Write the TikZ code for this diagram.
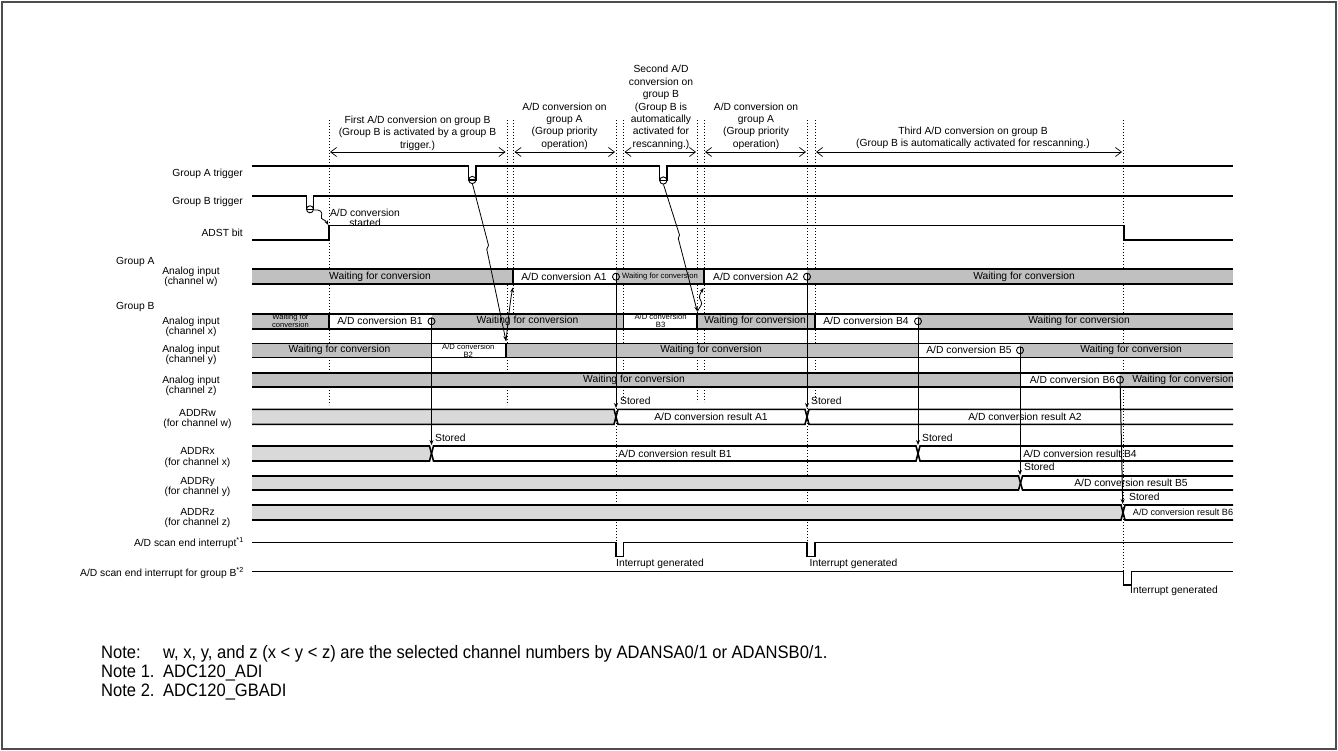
\documentclass[tikz,border=0pt]{standalone}
\usepackage{fontspec}
\setmainfont{Liberation Sans}
\newfontfamily\notefont[FakeStretch=0.92]{Liberation Sans}
\usetikzlibrary{arrows.meta}
\definecolor{bandgrey}{HTML}{C0C0C0}
\definecolor{reggrey}{HTML}{D9D9D9}
\definecolor{framegrey}{HTML}{4D4D4D}
\begin{document}
\begin{tikzpicture}[x=1pt,y=-1pt,
  sig/.style={line width=1.3pt},
  bline/.style={line width=1.6pt},
  sepline/.style={line width=1.4pt},
  guide/.style={line width=1pt, dash pattern=on 1pt off 2pt},
  dim/.style={line width=0.7pt, {Straight Barb[length=6pt,width=9pt,line width=0.7pt]}-{Straight Barb[length=6pt,width=9pt,line width=0.7pt]}},
  store/.style={line width=1pt, -{Stealth[length=5pt,width=4pt]}},
  ring/.style={line width=0.9pt},
  tx/.style={font=\fontsize{10.3}{11}\selectfont, inner sep=0pt},
  ann/.style={font=\fontsize{10.3}{12.4}\selectfont, align=center, inner sep=0pt},
  lab/.style={font=\fontsize{10.3}{10.6}\selectfont, align=center, inner sep=0pt},
  rlab/.style={font=\fontsize{10.3}{11}\selectfont, anchor=east, inner sep=0pt},
  smalltx/.style={font=\fontsize{7.7}{7.7}\selectfont, align=center, inner sep=0pt},
  tinytx/.style={font=\fontsize{7.6}{7.8}\selectfont, align=center, inner sep=0pt},
  notetx/.style={font=\notefont\fontsize{18}{19}\selectfont, anchor=base west, inner sep=0pt}
]
\useasboundingbox (0,0) rectangle (1338,751);
\draw[framegrey, line width=1.5pt] (2,2) rectangle (1336,749);

% dotted guide lines
\foreach \gx/\gt/\gb in {329/120/405, 507/120/405, 513/120/313, 616/120/542, 623.5/120/400, 697/120/402, 704/120/402, 807/120/542, 815/120/402, 1123/120/572}
  \draw[guide] (\gx,\gt) -- (\gx,\gb);

% phase annotations
\node[ann] (anB1) at (417.5,133) {First A/D conversion on group B\\(Group B is activated by a group B\\trigger.)};
\node[ann] (anA1) at (564.5,126) {A/D conversion on\\group A\\(Group priority\\operation)};
\node[ann] (anB2) at (661,107.5) {Second A/D\\conversion on\\group B\\(Group B is\\automatically\\activated for\\rescanning.)};
\node[ann] (anA2) at (756,126) {A/D conversion on\\group A\\(Group priority\\operation)};
\node[ann] (anB3) at (973,138) {Third A/D conversion on group B\\(Group B is automatically activated for rescanning.)};
\draw[dim] (330,152) -- (505.5,152);
\draw[dim] (514.5,152) -- (615,152);
\draw[dim] (624.5,152) -- (696,152);
\draw[dim] (705,152) -- (806,152);
\draw[dim] (816,152) -- (1122,152);

% left labels
\node[rlab] (lGA) at (243,174) {Group A trigger};
\node[rlab] (lGB) at (243,202) {Group B trigger};
\node[rlab] (lAD) at (243,233) {ADST bit};
\node[tx, anchor=west] (lGrA) at (116,262) {Group A};
\node[tx, anchor=west] (lGrB) at (116,307) {Group B};
\node[lab] (lw) at (191,277) {Analog input\\(channel w)};
\node[lab] (lx) at (191,327) {Analog input\\(channel x)};
\node[lab] (ly) at (191,355) {Analog input\\(channel y)};
\node[lab] (lz) at (191,386) {Analog input\\(channel z)};
\node[lab] (rw) at (197.5,419) {ADDRw\\(for channel w)};
\node[lab] (rx) at (197.5,457.5) {ADDRx\\(for channel x)};
\node[lab] (ry) at (197.5,487) {ADDRy\\(for channel y)};
\node[lab] (rz) at (197.5,518) {ADDRz\\(for channel z)};
\node[rlab] (li1) at (244,543) {A/D scan end interrupt\textsuperscript{*1}};
\node[rlab] (li2) at (244,573) {A/D scan end interrupt for group B\textsuperscript{*2}};

% triggers
\draw[sig] (252,166) -- (468.5,166) -- (468.5,180) -- (476,180) -- (476,166) -- (659.7,166) -- (659.7,180.5) -- (667,180.5) -- (667,166) -- (1233,166);
\draw[ring] (472.3,180) circle[radius=3.6];
\draw[ring] (663.3,180.5) circle[radius=3.6];
\draw[sig] (252,196) -- (306.7,196) -- (306.7,209.3) -- (313.3,209.3) -- (313.3,196) -- (1233,196);
\draw[ring] (310,209.3) circle[radius=3.5];

% ADST
\node[font=\fontsize{10.3}{10}\selectfont, align=center, inner sep=0pt] (adstart) at (365,218) {A/D conversion\\started};
\draw[sig] (252,240) -- (329,240) -- (329,225.7) -- (1124,225.7) -- (1124,240) -- (1233,240);
\coordinate (gbt) at (313.5,210);
\coordinate (adr) at (328.3,225);
\draw[line width=0.8pt, -{Stealth[length=4.5pt,width=3.5pt]}] (gbt) .. controls (320,209) and (323,212) .. (321.5,216) .. controls (320,220) and (325,219) .. (adr);

% analog input w
\fill[bandgrey] (252,269) rectangle (1233,284.3);
\fill[white] (513,269) rectangle (616,284.3);
\fill[white] (704,269) rectangle (807,284.3);
\draw[bline] (252,269) -- (1233,269) (252,284.3) -- (1233,284.3);
\draw[sepline] (513,269) -- (513,284.3) (704,269) -- (704,284.3);
\node[tx] (w1) at (380,276.7) {Waiting for conversion};
\node[tx] (w2) at (564,276.7) {A/D conversion A1};
\node[smalltx] (w3) at (660,276.7) {Waiting for conversion};
\node[tx] (w4) at (755.8,276.7) {A/D conversion A2};
\node[tx] (w5) at (1024,276.7) {Waiting for conversion};

% analog input x
\fill[bandgrey] (252,314) rectangle (1233,328.7);
\fill[white] (329,314) rectangle (431.5,328.7);
\fill[white] (623.5,314) rectangle (697,328.7);
\fill[white] (815,314) rectangle (918,328.7);
\draw[bline] (252,314) -- (1233,314) (252,328.7) -- (1233,328.7);
\draw[sepline] (329,314) -- (329,328.7) (623.5,314) -- (623.5,328.7) (697,314) -- (697,328.7) (815,314) -- (815,328.7);
\node[tinytx] (x1) at (290.5,320.5) {Waiting for\\conversion};
\node[tx] (x2) at (380,321.3) {A/D conversion B1};
\node[tx] (x3) at (527.5,321.3) {Waiting for conversion};
\node[smalltx] (x4) at (660.6,320.8) {A/D conversion\\B3};
\node[tx] (x5) at (755,321.3) {Waiting for conversion};
\node[tx] (x6) at (866,321.3) {A/D conversion B4};
\node[tx] (x7) at (1079,321.3) {Waiting for conversion};

% analog input y
\fill[bandgrey] (252,343.3) rectangle (1233,357.3);
\fill[white] (431.5,343.3) rectangle (506,357.3);
\fill[white] (918,343.3) rectangle (1020,357.3);
\draw[bline] (252,343.3) -- (1233,343.3) (252,357.3) -- (1233,357.3);
\draw[sepline] (506,343.3) -- (506,357.3);
\node[tx] (y1) at (339.5,350.3) {Waiting for conversion};
\node[smalltx] (y2) at (468.3,350.6) {A/D conversion\\B2};
\node[tx] (y3) at (711,350.3) {Waiting for conversion};
\node[tx] (y4) at (969,350.3) {A/D conversion B5};
\node[tx] (y5) at (1131,350.3) {Waiting for conversion};

% analog input z
\fill[bandgrey] (252,372.7) rectangle (1233,386.7);
\fill[white] (1020,372.7) rectangle (1120,386.7);
\draw[bline] (252,372.7) -- (1233,372.7) (252,386.7) -- (1233,386.7);
\node[tx] (z1) at (634,379.7) {Waiting for conversion};
\node[tx] (z2) at (1072.5,379.7) {A/D conversion B6};
\node[tx] (z3) at (1183,379.7) {Waiting for conversion};

% ADDRw
\fill[reggrey] (252,409.3) -- (614,409.3) -- (616,416.8) -- (614,424.3) -- (252,424.3) -- cycle;
\draw[bline] (252,409.3) -- (614,409.3) -- (618,424.3) -- (805,424.3) -- (809,409.3) -- (1233,409.3);
\draw[bline] (252,424.3) -- (614,424.3) -- (618,409.3) -- (805,409.3) -- (809,424.3) -- (1233,424.3);
\node[tx] (ra1) at (711,416.8) {A/D conversion result A1};
\node[tx] (ra2) at (1025,416.8) {A/D conversion result A2};

% ADDRx
\fill[reggrey] (252,446) -- (429.5,446) -- (431.5,453.5) -- (429.5,461) -- (252,461) -- cycle;
\draw[bline] (252,446) -- (429.5,446) -- (433.5,461) -- (916,461) -- (920,446) -- (1233,446);
\draw[bline] (252,461) -- (429.5,461) -- (433.5,446) -- (916,446) -- (920,461) -- (1233,461);
\node[tx] (rb1) at (675,453.5) {A/D conversion result B1};
\node[tx] (rb4) at (1080,453.5) {A/D conversion result B4};

% ADDRy
\fill[reggrey] (252,476) -- (1018.5,476) -- (1020.5,483) -- (1018.5,490) -- (252,490) -- cycle;
\draw[bline] (252,476) -- (1018.5,476) -- (1022.5,490) -- (1233,490);
\draw[bline] (252,490) -- (1018.5,490) -- (1022.5,476) -- (1233,476);
\node[tx] (rb5) at (1131,483) {A/D conversion result B5};

% ADDRz
\fill[reggrey] (252,505) -- (1121,505) -- (1123,512.5) -- (1121,520) -- (252,520) -- cycle;
\draw[bline] (252,505) -- (1121,505) -- (1125,520) -- (1233,520);
\draw[bline] (252,520) -- (1121,520) -- (1125,505) -- (1233,505);
\node[font=\fontsize{9.1}{10}\selectfont, inner sep=0pt] (rb6) at (1183,512.5) {A/D conversion result B6};

% end-of-conversion markers and stored arrows
\coordinate (eA1) at (616,276.7);  \coordinate (sA1) at (616,408);
\coordinate (eA2) at (807,276.7);  \coordinate (sA2) at (807,408);
\coordinate (eB1) at (431.5,321.3); \coordinate (sB1) at (431.5,445);
\coordinate (eB4) at (918,321.3);  \coordinate (sB4) at (918,445);
\coordinate (eB5) at (1020,350.3); \coordinate (sB5) at (1020,475);
\coordinate (eB6) at (1120,379.7); \coordinate (sB6) at (1122.7,504);
\foreach \e/\s in {eA1/sA1, eA2/sA2, eB1/sB1, eB4/sB4, eB5/sB5, eB6/sB6}{
  \draw[store] ([yshift=3.6pt]\e) -- (\s);
  \draw[ring] (\e) circle[radius=3.5];
}
\node[tx, anchor=west] (stA1) at (620,401) {Stored};
\node[tx, anchor=west] (stA2) at (811,401) {Stored};
\node[tx, anchor=west] (stB1) at (435,438.3) {Stored};
\node[tx, anchor=west] (stB4) at (922,438.3) {Stored};
\node[tx, anchor=west] (stB5) at (1024,467.3) {Stored};
\node[tx, anchor=west] (stB6) at (1129,497.3) {Stored};

% group A trigger arrows
\coordinate (ta1) at (472.5,184);
\coordinate (b2end) at (506,341);
\coordinate (a1st) at (512.8,287.5);
\draw[line width=0.8pt, -{Stealth[length=5pt,width=3.5pt]}] (ta1) -- (488.5,245.3) -- (486.8,249.3) -- (b2end);
\draw[line width=0.8pt, -{Stealth[length=5pt,width=3.5pt]}] (b2end) .. controls (508,322) and (510,302) .. (a1st);
\coordinate (ta2) at (663.5,184.5);
\coordinate (b3end) at (697.3,311.5);
\coordinate (a2st) at (703.5,288);
\draw[line width=0.8pt, -{Stealth[length=5pt,width=3.5pt]}] (ta2) -- (679.5,235) -- (678.3,238.5) -- (b3end);
\draw[line width=0.8pt, -{Stealth[length=4.5pt,width=3.5pt]}] (b3end) .. controls (700,306) and (703,305) .. (701,301) .. controls (698,297) and (700,294) .. (a2st);

% interrupts
\draw[sig] (252,542.3) -- (616,542.3) -- (616,556.7) -- (623.5,556.7) -- (623.5,542.3) -- (807,542.3) -- (807,556.7) -- (815,556.7) -- (815,542.3) -- (1233,542.3);
\node[tx, anchor=west] (ig1) at (616,563.5) {Interrupt generated};
\node[tx, anchor=west] (ig2) at (809.5,563.5) {Interrupt generated};
\draw[sig] (252,571.7) -- (1123.3,571.7) -- (1123.3,585) -- (1131.7,585) -- (1131.7,571.7) -- (1233,571.7);
\node[tx, anchor=west] (ig3) at (1130,591) {Interrupt generated};

% notes
\node[notetx] (n0) at (101,658) {Note:};
\node[notetx] (n0t) at (163,658) {w, x, y, and z (x < y < z) are the selected channel numbers by ADANSA0/1 or ADANSB0/1.};
\node[notetx] (n1) at (101,677) {Note 1.};
\node[notetx] (n1t) at (163,677) {ADC120\_ADI};
\node[notetx] (n2) at (101,696) {Note 2.};
\node[notetx] (n2t) at (163,696) {ADC120\_GBADI};
\end{tikzpicture}
\end{document}
